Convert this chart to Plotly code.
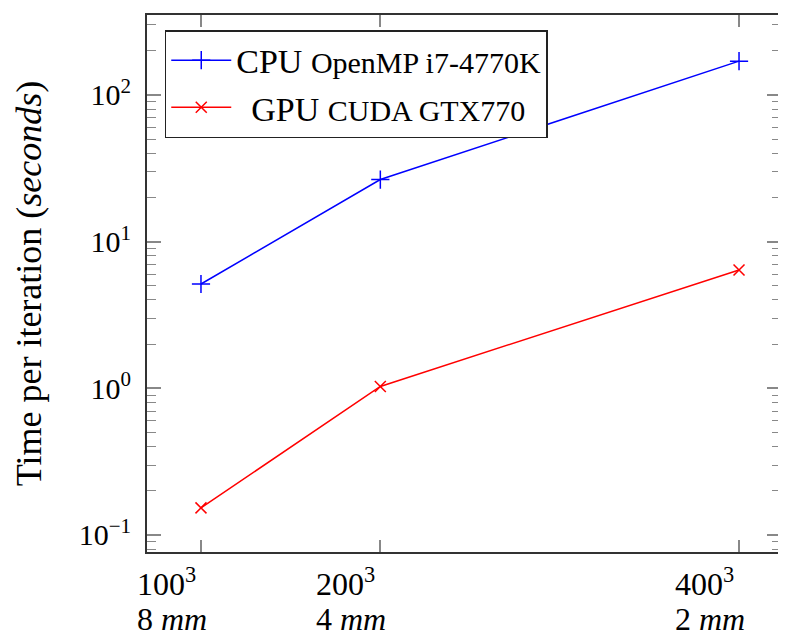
import plotly.graph_objects as go

grid_sizes = [100, 200, 400]
cpu_times = [5.14, 26.5, 170]
gpu_times = [0.153, 1.03, 6.41]
x_tick_top = ["100<sup>3</sup>", "200<sup>3</sup>", "400<sup>3</sup>"]
x_tick_bottom = ["8 <i>mm</i>", "4 <i>mm</i>", "2 <i>mm</i>"]
y_tick_vals = [0.1, 1, 10, 100]
y_tick_text = ["10<sup>\u22121</sup>", "10<sup>0</sup>", "10<sup>1</sup>", "10<sup>2</sup>"]
y_minor_vals = [0.08, 0.09,
                0.2, 0.3, 0.4, 0.5, 0.6, 0.7, 0.8, 0.9,
                2, 3, 4, 5, 6, 7, 8, 9,
                20, 30, 40, 50, 60, 70, 80, 90,
                200, 300]
cpu_name = "CPU <span style='font-size:30px'>OpenMP i7-4770K</span>"
gpu_name = "<span style='font-size:30px'>&nbsp;&nbsp;</span>GPU <span style='font-size:30px'>CUDA GTX770</span>"

FONT = "Liberation Serif"

fig = go.Figure()
fig.add_trace(go.Scatter(
    x=grid_sizes, y=cpu_times, mode="lines+markers", name=cpu_name,
    line=dict(color="#0000ff", width=1.5),
    marker=dict(symbol="cross-thin", size=13, line=dict(color="#0000ff", width=1.5)),
))
fig.add_trace(go.Scatter(
    x=grid_sizes, y=gpu_times, mode="lines+markers", name=gpu_name,
    line=dict(color="#ff0000", width=1.5),
    marker=dict(symbol="x-thin", size=11, line=dict(color="#ff0000", width=1.5)),
))

for xv, t1, t2 in zip(grid_sizes, x_tick_top, x_tick_bottom):
    fig.add_annotation(
        x=xv, y=0, xref="x", yref="paper", text=t1,
        showarrow=False, xanchor="left", yanchor="middle", align="left",
        xshift=-66, yshift=-30, font=dict(family=FONT, size=32, color="black"),
    )
    fig.add_annotation(
        x=xv, y=0, xref="x", yref="paper", text=t2,
        showarrow=False, xanchor="left", yanchor="middle", align="left",
        xshift=-66, yshift=-67, font=dict(family=FONT, size=32, color="black"),
    )

# The page body has an 8px margin, so the figure is drawn 8px in from the
# top-left corner; size and margins compensate for it.
fig.update_layout(
    width=778, height=629,
    margin=dict(l=139, r=5, t=7, b=85),
    plot_bgcolor="white", paper_bgcolor="white",
    font=dict(family=FONT, color="black"),
    showlegend=True,
    legend=dict(
        x=0.028, y=0.972, xanchor="left", yanchor="top",
        bordercolor="#222222", borderwidth=1.5, bgcolor="white",
        font=dict(family=FONT, size=34, color="black"),
        itemwidth=60, tracegroupgap=0,
    ),
    xaxis=dict(
        range=[69.9, 423.4], tickvals=grid_sizes, showticklabels=False,
        ticks="inside", ticklen=12, tickcolor="#888888", tickwidth=1.5,
        showline=True, linecolor="#333333", linewidth=2, mirror="ticks",
        showgrid=False, zeroline=False, automargin=False,
    ),
    yaxis=dict(
        type="log", range=[-1.116, 2.545],
        tickvals=y_tick_vals, ticktext=y_tick_text,
        ticks="inside", ticklen=14, tickcolor="#888888", tickwidth=1.5,
        showline=True, linecolor="#333333", linewidth=2, mirror="ticks",
        showgrid=False, zeroline=False, automargin=False,
        tickfont=dict(family=FONT, size=30, color="black"),
        ticklabelstandoff=8,
        minor=dict(tickmode="array", tickvals=y_minor_vals, ticks="inside", ticklen=9,
                   tickcolor="#888888", tickwidth=1.2, showgrid=False),
        title=dict(text="Time per iteration (<i>seconds</i>)", font=dict(family=FONT, size=36, color="black"), standoff=26),
    ),
)

fig.write_html("out.html")
